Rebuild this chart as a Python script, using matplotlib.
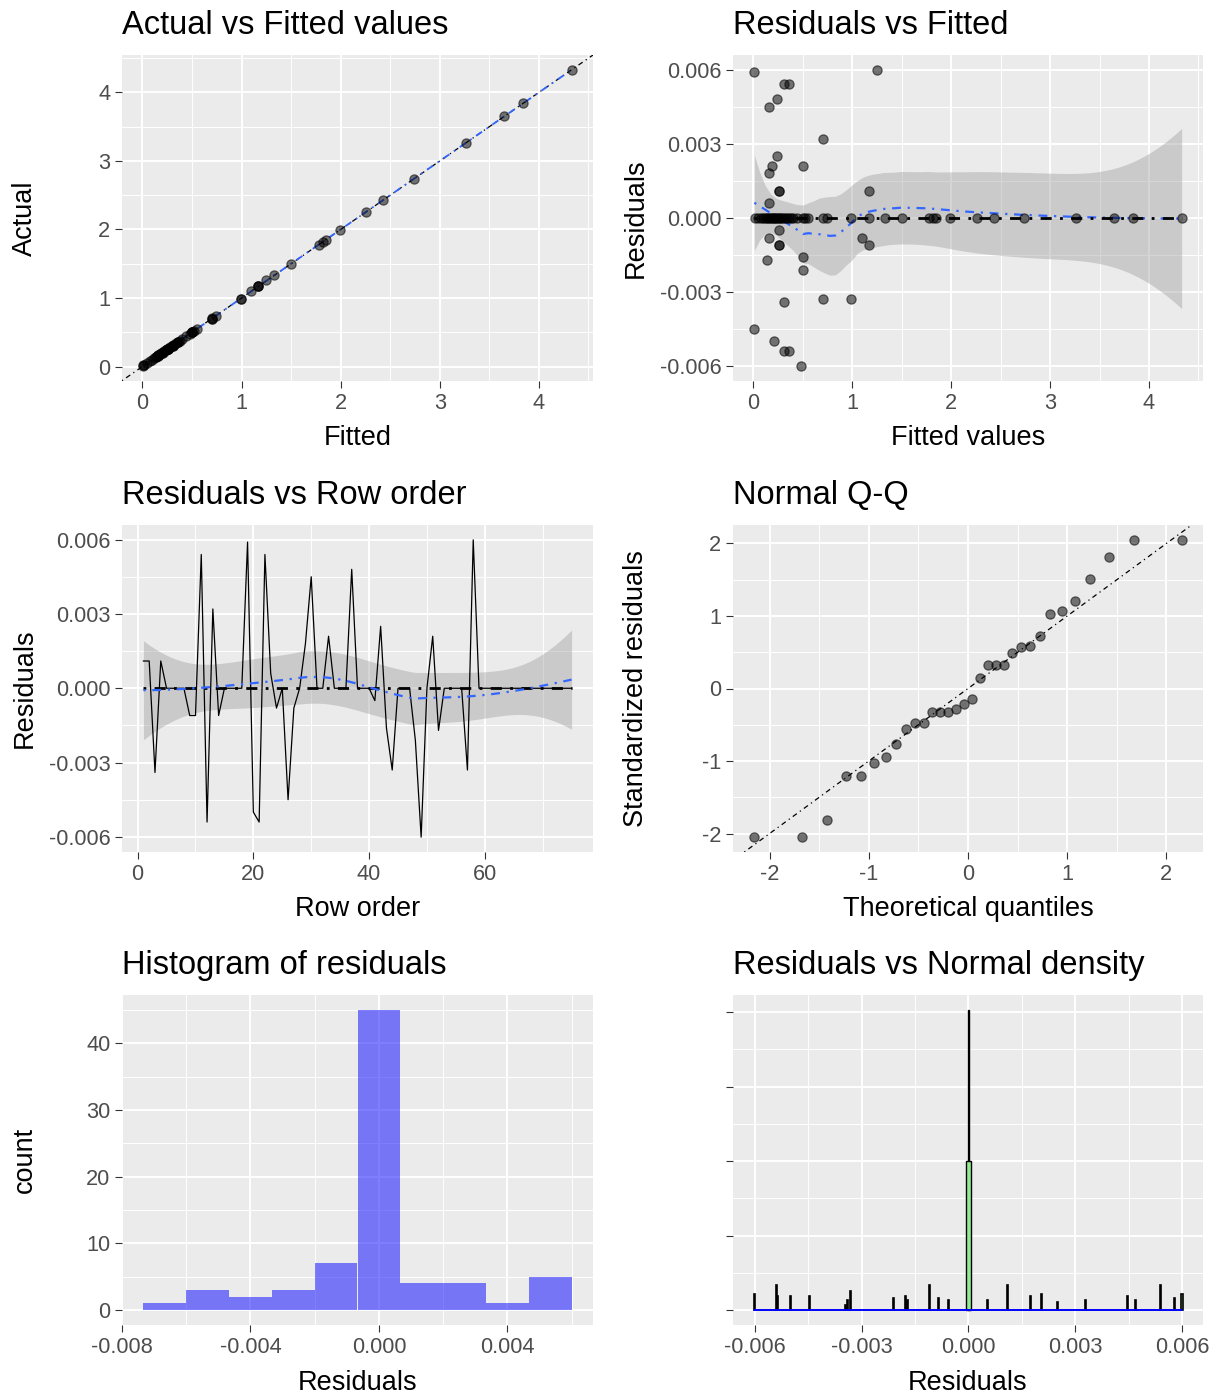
import numpy as np
import matplotlib
matplotlib.use("Agg")
import matplotlib.pyplot as plt
from matplotlib.ticker import MultipleLocator, FuncFormatter, NullFormatter
from statistics import NormalDist

plt.rcParams['font.family'] = ['Liberation Sans', 'DejaVu Sans']
plt.rcParams['axes.unicode_minus'] = False

# ---------------- data ----------------
row_order = list(range(1, 76))
residuals = [0.0011, 0.0011, -0.0034, 0.0011, 0, 0, 0, 0, -0.0011, -0.0011,
             0.0054, -0.0054, 0.0032, -0.0011, 0, 0, 0, 0, 0.0059, -0.0050,
             -0.0054, 0.0054, 0.0006, -0.0008, 0, -0.0045, -0.0008, 0, 0.0018, 0.0045,
             0, 0, 0.0021, 0, 0, 0, 0.0048, 0, 0, 0,
             -0.0005, 0.0025, -0.0016, -0.0033, 0, 0, 0, -0.0021, -0.00601, 0,
             0.0021, -0.0017, 0, 0, 0, 0, -0.0033, 0.00599, 0, 0,
             0, 0, 0, 0, 0, 0, 0, 0, 0, 0,
             0, 0, 0, 0, 0]
fitted = [0.26, 0.26, 0.31, 1.17, 0.44, 0.02, 1.99, 0.74, 0.26, 0.26,
          0.31, 0.31, 0.70, 1.17, 0.12, 3.26, 0.28, 0.55, 0.01, 0.21,
          0.36, 0.36, 0.16, 0.16, 0.08, 0.01, 1.10, 2.43, 0.16, 0.16,
          0.34, 1.50, 0.19, 0.22, 4.33, 0.05, 0.24, 0.38, 1.82, 0.17,
          0.26, 0.24, 0.50, 0.70, 0.30, 2.74, 0.14, 0.50, 0.48, 0.99,
          0.50, 0.14, 0.20, 3.65, 0.10, 0.25, 0.99, 1.25, 0.52, 1.17,
          0.32, 3.84, 0.15, 0.40, 1.78, 0.27, 2.26, 0.18, 0.70, 1.33,
          0.21, 1.85, 0.36, 0.24, 0.50]

# standardized residuals (non-zero residuals) for the Q-Q plot, sorted
std_resid = [-2.05, -2.05, -1.82, -1.20, -1.20, -1.03, -0.95, -0.77, -0.56, -0.48,
             -0.47, -0.33, -0.33, -0.33, -0.28, -0.22, -0.15, 0.15, 0.33, 0.33,
             0.33, 0.49, 0.57, 0.59, 0.72, 1.03, 1.07, 1.21, 1.51, 1.82,
             2.05, 2.05]

# histogram: 10 bins
hist_bins = 10

# narrow density spikes of the residuals (position, height)
spike_x = [-0.0060, -0.0054, -0.00535, -0.0050, -0.00445, -0.00345, -0.0034, -0.0033,
           -0.0021, -0.00177, -0.0017, -0.0011, -0.00084, -0.00056,
           0.00054, 0.0011, 0.00174, 0.00205, 0.0025, 0.0033, 0.00446, 0.0047,
           0.0054, 0.0058, 0.0060]
spike_h = [22000, 34000, 19000, 19000, 19000, 7000, 14000, 26000,
           16000, 19000, 13000, 34000, 16000, 13000,
           13000, 34000, 19000, 21000, 11000, 13000, 19000, 13000,
           34000, 16000, 21000]
center_spike_h = [200000, 403000]
density_ticks = [0, 100000, 200000, 300000, 400000]

# ---------------- helpers ----------------
W, H = 1221, 1395
fig = plt.figure(figsize=(W / 100, H / 100), dpi=100)

cols = [(122, 593), (733, 1203)]
rows_px = [(55, 381), (525, 852), (995, 1325)]

BLUE = '#3366FF'
DOTDASH = (0, (1, 3, 4, 3))
TICK_SIZE = 15.7
LAB_SIZE = 19.5
TITLE_SIZE = 23.5

TITLES = {(0, 0): 'Actual vs Fitted values', (0, 1): 'Residuals vs Fitted',
          (1, 0): 'Residuals vs Row order', (1, 1): 'Normal Q-Q',
          (2, 0): 'Histogram of residuals', (2, 1): 'Residuals vs Normal density'}


def add_ax(c, r):
    l, rr = cols[c]
    t, b = rows_px[r]
    ax = fig.add_axes([l / W, 1 - b / H, (rr - l) / W, (b - t) / H])
    ax.set_facecolor('#EBEBEB')
    for s in ax.spines.values():
        s.set_visible(False)
    ax.set_axisbelow(True)
    ax.grid(which='major', color='white', lw=1.4)
    ax.grid(which='minor', color='white', lw=0.7)
    ax.tick_params(which='major', length=4.9, width=0.8, color='#333333',
                   labelsize=TICK_SIZE, labelcolor='#4D4D4D', pad=3.5)
    ax.tick_params(which='minor', length=0)
    fig.text(l / W, 1 - (t - 21) / H, TITLES[(r, c)], fontsize=TITLE_SIZE,
             ha='left', va='baseline', color='black')
    return ax


def labels(ax, c, xl, yl):
    ax.set_xlabel(xl, fontsize=LAB_SIZE, color='black')
    ax.xaxis.set_label_coords(0.5, -57 / 326)
    ax.xaxis.label.set_va('center')
    if yl:
        ax.set_ylabel(yl, fontsize=LAB_SIZE, color='black')
        ax.yaxis.set_label_coords((25 + 611 * c - cols[c][0]) / (cols[c][1] - cols[c][0]), 0.5)
        ax.yaxis.label.set_va('center')


def expand(lo, hi, f=0.05):
    d = hi - lo
    return lo - f * d, hi + f * d


fmt3 = FuncFormatter(lambda v, p: f"{v:.3f}")
fmt0 = FuncFormatter(lambda v, p: f"{v:.0f}")


def loess(x, y, xg, span=0.75):
    x = np.asarray(x, float)
    y = np.asarray(y, float)
    n = len(x)
    q = int(np.floor(n * span))

    def lrow(x0):
        d = np.abs(x - x0)
        h = np.sort(d)[q - 1] * 1.0000001
        w = np.clip(1 - (d / h) ** 3, 0, None) ** 3
        X = np.vstack([np.ones(n), x - x0, (x - x0) ** 2]).T
        A = X.T @ (w[:, None] * X)
        return np.linalg.solve(A, (X * w[:, None]).T)[0]

    Lt = np.array([lrow(v) for v in x])
    Lg = np.array([lrow(v) for v in xg])
    fit = Lg @ y
    res = y - Lt @ y
    IL = np.eye(n) - Lt
    M = IL.T @ IL
    d1 = np.trace(M)
    d2 = np.trace(M @ M)
    s = np.sqrt(np.sum(res ** 2) / d1)
    df = d1 ** 2 / d2
    z = NormalDist().inv_cdf(0.975)
    t = (z + (z ** 3 + z) / 4 / df + (5 * z ** 5 + 16 * z ** 3 + 3 * z) / 96 / df ** 2)
    se = s * np.sqrt(np.sum(Lg ** 2, axis=1))
    return fit, fit - t * se, fit + t * se


res = np.array(residuals)
fit_v = np.array(fitted)
actual = fit_v + res
rows_a = np.array(row_order, float)

PT = dict(s=44, facecolor=(0, 0, 0, 0.52), edgecolor=(0, 0, 0, 0.55), linewidths=0.9, zorder=4)

# ---------------- panel 1: Actual vs Fitted ----------------
ax1 = add_ax(0, 0)
xg1 = np.linspace(fit_v.min(), fit_v.max(), 80)
f1, _, _ = loess(fit_v, actual, xg1)
ax1.axline((0, 0), slope=1, color='black', lw=0.9, ls=DOTDASH, zorder=3)
ax1.plot(xg1, f1, color=BLUE, lw=1.3, ls=DOTDASH, zorder=3)
ax1.scatter(fit_v, actual, **PT)
ax1.set_xlim(*expand(fit_v.min(), fit_v.max()))
ax1.set_ylim(*expand(actual.min(), actual.max()))
for a in (ax1.xaxis, ax1.yaxis):
    a.set_major_locator(MultipleLocator(1))
    a.set_minor_locator(MultipleLocator(0.5))
    a.set_major_formatter(fmt0)
labels(ax1, 0, 'Fitted', 'Actual')

# ---------------- panel 2: Residuals vs Fitted ----------------
ax2 = add_ax(1, 0)
xg2 = np.linspace(fit_v.min(), fit_v.max(), 80)
f2, lo2, hi2 = loess(fit_v, res, xg2)
ax2.fill_between(xg2, lo2, hi2, color='#999999', alpha=0.4, lw=0, zorder=1)
ax2.plot(xg2, f2, color=BLUE, lw=1.6, ls=DOTDASH, zorder=3)
ax2.plot([fit_v.min(), fit_v.max()], [0, 0], color='black', lw=2.0, ls=DOTDASH, zorder=3)
ax2.scatter(fit_v, res, **PT)
ax2.set_xlim(*expand(fit_v.min(), fit_v.max()))
ax2.set_ylim(*expand(min(res.min(), lo2.min()), max(res.max(), hi2.max())))
ax2.xaxis.set_major_locator(MultipleLocator(1))
ax2.xaxis.set_minor_locator(MultipleLocator(0.5))
ax2.xaxis.set_major_formatter(fmt0)
ax2.yaxis.set_major_locator(MultipleLocator(0.003))
ax2.yaxis.set_minor_locator(MultipleLocator(0.0015))
ax2.yaxis.set_major_formatter(fmt3)
labels(ax2, 1, 'Fitted values', 'Residuals')

# ---------------- panel 3: Residuals vs Row order ----------------
ax3 = add_ax(0, 1)
xg3 = np.linspace(rows_a.min(), rows_a.max(), 80)
f3, lo3, hi3 = loess(rows_a, res, xg3)
ax3.fill_between(xg3, lo3, hi3, color='#999999', alpha=0.4, lw=0, zorder=1)
ax3.plot(rows_a, res, color='black', lw=0.9, zorder=2)
ax3.plot([rows_a.min(), rows_a.max()], [0, 0], color='black', lw=2.0, ls=DOTDASH, zorder=3)
ax3.plot(xg3, f3, color=BLUE, lw=1.6, ls=DOTDASH, zorder=3)
ax3.set_xlim(*expand(rows_a.min(), rows_a.max()))
ax3.set_ylim(*expand(min(res.min(), lo3.min()), max(res.max(), hi3.max())))
ax3.xaxis.set_major_locator(MultipleLocator(20))
ax3.xaxis.set_minor_locator(MultipleLocator(10))
ax3.xaxis.set_major_formatter(fmt0)
ax3.yaxis.set_major_locator(MultipleLocator(0.003))
ax3.yaxis.set_minor_locator(MultipleLocator(0.0015))
ax3.yaxis.set_major_formatter(fmt3)
labels(ax3, 0, 'Row order', 'Residuals')

# ---------------- panel 4: Normal Q-Q ----------------
ax4 = add_ax(1, 1)
sr = np.array(std_resid)
nq = len(sr)
theo = np.array([NormalDist().inv_cdf((i - 0.5) / nq) for i in range(1, nq + 1)])
ax4.axline((0, 0), slope=1, color='black', lw=0.9, ls=DOTDASH, zorder=3)
ax4.scatter(theo, sr, **PT)
ax4.set_xlim(*expand(theo.min(), theo.max()))
ax4.set_ylim(*expand(sr.min(), sr.max()))
for a in (ax4.xaxis, ax4.yaxis):
    a.set_major_locator(MultipleLocator(1))
    a.set_minor_locator(MultipleLocator(0.5))
    a.set_major_formatter(fmt0)
labels(ax4, 1, 'Theoretical quantiles', 'Standardized residuals')

# ---------------- panel 5: Histogram ----------------
ax5 = add_ax(0, 2)
bw = (res.max() - res.min()) / (hist_bins - 1)
edges = bw / 2 + bw * np.arange(-6, -6 + hist_bins + 1)
counts, _ = np.histogram(res, bins=edges)
ax5.bar(edges[:-1], counts, width=bw, align='edge', color='blue', alpha=0.5, lw=0, zorder=2)
ax5.set_xlim(*expand(edges[0], edges[-1]))
ax5.set_ylim(*expand(0, counts.max()))
ax5.xaxis.set_major_locator(MultipleLocator(0.004))
ax5.xaxis.set_minor_locator(MultipleLocator(0.002))
ax5.xaxis.set_major_formatter(fmt3)
ax5.yaxis.set_major_locator(MultipleLocator(10))
ax5.yaxis.set_minor_locator(MultipleLocator(5))
ax5.yaxis.set_major_formatter(fmt0)
labels(ax5, 0, 'Residuals', 'count')

# ---------------- panel 6: Residuals vs Normal density ----------------
ax6 = add_ax(1, 2)
ax6.bar(spike_x, spike_h, width=0.00003, color='#90EE90', edgecolor='black', lw=1.2, zorder=2)
ax6.bar([0], [center_spike_h[1]], width=0.00002, color='#90EE90', edgecolor='black', lw=1.0, zorder=2)
ax6.bar([0], [center_spike_h[0]], width=0.00014, color='#90EE90', edgecolor='black', lw=1.0, zorder=3)
xn = np.linspace(res.min(), res.max(), 200)
mu, sd = res.mean(), res.std(ddof=1)
dn = np.exp(-0.5 * ((xn - mu) / sd) ** 2) / (sd * np.sqrt(2 * np.pi))
ax6.plot(xn, dn, color='blue', lw=1.4, zorder=4)
ax6.set_xlim(*expand(res.min(), res.max()))
ax6.set_ylim(*expand(0, center_spike_h[1]))
ax6.xaxis.set_major_locator(MultipleLocator(0.003))
ax6.xaxis.set_minor_locator(MultipleLocator(0.0015))
ax6.xaxis.set_major_formatter(fmt3)
ax6.set_yticks(density_ticks)
ax6.yaxis.set_minor_locator(MultipleLocator(50000))
ax6.yaxis.set_major_formatter(NullFormatter())
labels(ax6, 1, 'Residuals', None)

fig.savefig('out.png', dpi=100, facecolor='white')
